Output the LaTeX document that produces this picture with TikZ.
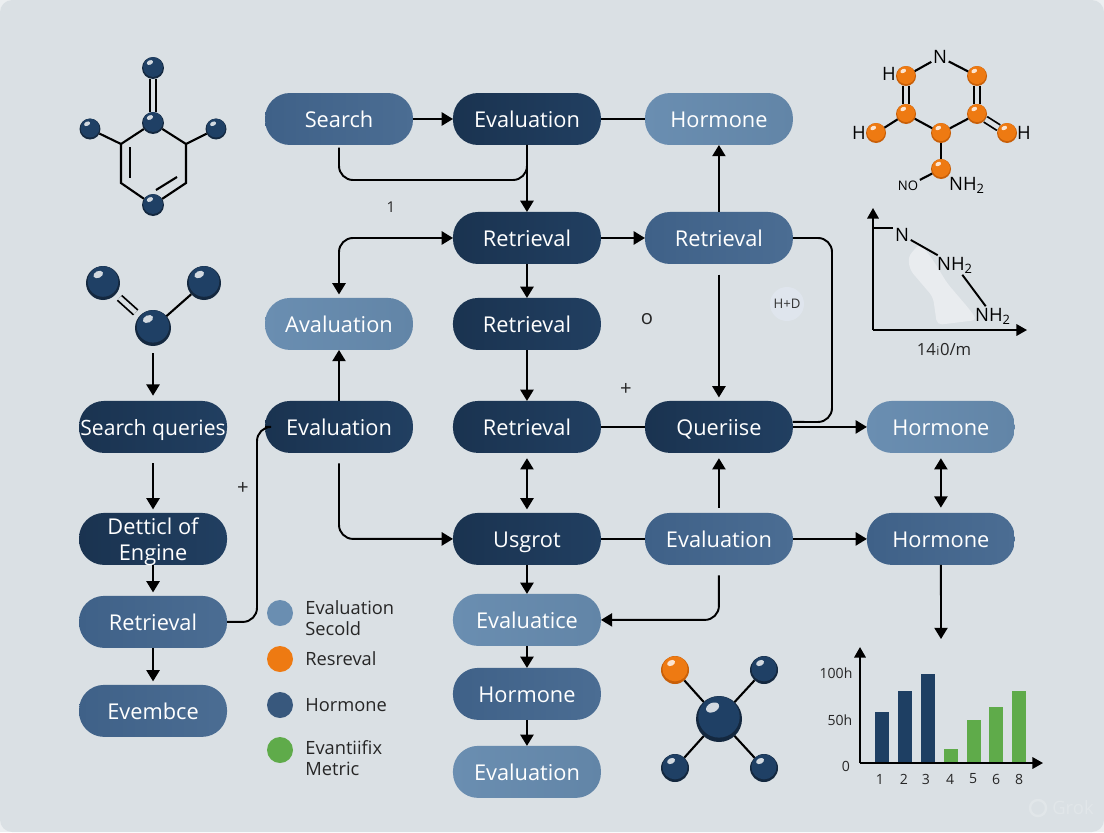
\documentclass[tikz,border=0pt]{standalone}
\usepackage{fontspec}
\setmainfont{Open Sans}
\usepackage{xcolor}
\usepackage{tikz}
\usetikzlibrary{shapes.geometric,arrows.meta,positioning,calc}
\definecolor{pagebg}{HTML}{DAE0E4}
\definecolor{hdbg}{HTML}{DFE5ED}
\definecolor{darkl}{HTML}{1A3350}
\definecolor{darkr}{HTML}{213F61}
\definecolor{midl}{HTML}{3F6188}
\definecolor{midr}{HTML}{4B6D93}
\definecolor{lightl}{HTML}{6A8EB1}
\definecolor{lightr}{HTML}{6285A7}
\definecolor{ballblue}{HTML}{1F4065}
\definecolor{balldark}{HTML}{14283F}
\definecolor{ballorange}{HTML}{EE7A12}
\definecolor{ballorangedk}{HTML}{C85F08}
\definecolor{barblue}{HTML}{1E3F63}
\definecolor{bargreen}{HTML}{5FAB4A}
\tikzset{
  box/.style={rectangle, rounded corners=0.5cm, minimum width=2.96cm, minimum height=1.04cm, inner sep=0pt, outer sep=0pt, align=center, text=white, text height=10pt, text depth=0pt, font=\fontsize{12.4}{14.7}\selectfont},
  darkbox/.style={box, left color=darkl, right color=darkr},
  midbox/.style={box, left color=midl, right color=midr},
  lightbox/.style={box, left color=lightl, right color=lightr},
  link/.style={draw=black, line width=1.1pt},
  arr/.style={link, -{Triangle[width=7.5pt,length=6.4pt]}},
  arrboth/.style={link, {Triangle[width=7.5pt,length=6.4pt]}-{Triangle[width=7.5pt,length=6.4pt]}},
  bendy/.style={rounded corners=8pt},
  bond/.style={draw=black, line width=1.2pt},
  bonddbl/.style={draw=black, line width=1pt, double=pagebg, double distance=2.6pt},
  axis/.style={draw=black, line width=1.1pt, -{Triangle[width=6.5pt,length=6pt]}},
  chem/.style={inner sep=0.8pt, text=black, font=\fontsize{10.5}{12}\selectfont},
  legdot/.style={circle, minimum size=0.52cm, inner sep=0pt, outer sep=0pt},
  legtext/.style={inner sep=0pt, align=left, text=black!85, font=\fontsize{10.4}{11.8}\selectfont},
  tickl/.style={inner sep=0pt, text=black!85, font=\fontsize{8}{9}\selectfont},
  mark text/.style={inner sep=0pt, text=black!85, font=\fontsize{8.5}{10}\selectfont},
  mark big/.style={mark text, font=\fontsize{11.5}{12}\selectfont}
}
% name, x, y, radius, colour, dark rim
\newcommand{\atom}[6]{
  \node[circle, minimum size=#4*0.04cm, inner sep=0pt, outer sep=0pt, fill=#6] (#1) at (#2,#3) {};
  \fill[#5] (#2,#3-0.09*#4) circle[radius=0.9*#4];
  \fill[white!80!#5, rotate around={25:(#2-0.28*#4,#3-0.5*#4)}] (#2-0.28*#4,#3-0.5*#4) ellipse[x radius=0.3*#4, y radius=0.2*#4];
}

\begin{document}
\begin{tikzpicture}[x=0.02cm,y=-0.02cm,node distance=1cm and 0.8cm]
\useasboundingbox (0,0) rectangle (1104,832);
\fill[white!50!pagebg] (0,0) rectangle (1104,832);
\fill[pagebg, rounded corners=7pt] (0,0) rectangle (1104,832);

% main flow
\node[midbox] (search) at (339,119) {Search};
\node[darkbox, right=0.8cm of search] (eval-a) {Evaluation};
\node[lightbox, right=0.88cm of eval-a] (horm-a) {Hormone};
\node[darkbox, below=1.34cm of eval-a] (ret-a) {Retrieval};
\node[midbox, right=0.88cm of ret-a] (ret-b) {Retrieval};
\node[darkbox, below=0.68cm of ret-a] (ret-c) {Retrieval};
\node[lightbox, left=0.8cm of ret-c] (aval) {Avaluation};
\node[darkbox, below=1.02cm of ret-c] (ret-d) {Retrieval};
\node[darkbox, left=0.8cm of ret-d] (eval-c) {Evaluation};
\node[darkbox, right=0.88cm of ret-d] (queri) {Queriise};
\node[lightbox, right=1.48cm of queri] (horm-b) {Hormone};
\node[darkbox, below=1.2cm of ret-d] (usgrot) {Usgrot};
\node[midbox, right=0.88cm of usgrot] (eval-d) {Evaluation};
\node[midbox, right=1.48cm of eval-d] (horm-c) {Hormone};
\node[lightbox, below=0.58cm of usgrot] (evalice) {Evaluatice};
\node[midbox, below=0.44cm of evalice] (horm-d) {Hormone};
\node[lightbox, below=0.52cm of horm-d] (eval-e) {Evaluation};

% left column
\node[darkbox, left=0.76cm of eval-c, font=\fontsize{12}{14.7}\selectfont] (squery) {Search queries};
\node[darkbox, below=1.2cm of squery, text height=26pt, text depth=2pt] (detail) {Detticl of\\Engine};
\node[midbox, below=0.62cm of detail] (ret-l) {Retrieval};
\node[midbox, below=0.74cm of ret-l] (evembce) {Evembce};

\draw[arr] (search) -- (eval-a);
\draw[link] (eval-a) -- (horm-a);
\coordinate (join-a) at (527,180);
\draw[link, bendy] ([yshift=-1.5pt]search.south) |- (join-a) -- (eval-a.south);
\draw[arr] (eval-a) -- (ret-a);
\draw[arr] (ret-a) -- (ret-b);
\draw[arr] (ret-b) -- (horm-a);
\draw[arrboth, bendy, shorten >=2pt] (ret-a.west) -| (aval.north);
\draw[arr, shorten <=6pt, shorten >=2pt] (ret-b) -- (queri);
\coordinate (turn-b) at (832,422);
\draw[link, bendy] (ret-b.east) -| (turn-b) -- ([yshift=0.1cm]queri.east);
\draw[arr] (queri) -- (horm-b);
\draw[arr] (eval-c) -- (aval);
\draw[arr] (ret-a) -- (ret-c);
\draw[arr] (ret-c) -- (ret-d);
\draw[link] (ret-d) -- (queri);
\draw[arrboth, shorten <=3pt, shorten >=2pt] (ret-d) -- (usgrot);
\draw[arr, bendy, shorten <=6pt] (eval-c.south) |- (usgrot.west);
\draw[link] (usgrot) -- (eval-d);
\draw[arr, shorten <=3pt, shorten >=3pt] (eval-d) -- (queri);
\draw[arr] (eval-d) -- (horm-c);
\draw[arrboth, shorten <=3pt, shorten >=3pt] (horm-b) -- (horm-c);
\coordinate (hist-in) at (941,639);
\draw[arr] (horm-c) -- (hist-in);
\draw[arr, bendy, shorten <=6pt] (eval-d.south) |- (evalice.east);
\draw[arr] (usgrot) -- (evalice);
\draw[arr] (evalice) -- (horm-d);
\draw[arr] (horm-d) -- (eval-e);
\draw[arr, shorten <=6pt, shorten >=2pt] (squery) -- (detail);
\draw[arr, shorten >=2pt] (detail) -- (ret-l);
\draw[arr, shorten >=2pt] (ret-l) -- (evembce);
\coordinate (turn-l) at (257,427);
\draw[link, bendy] (ret-l.east) -| (turn-l) -- (eval-c.west);

% loose marks
\node[mark text] (m-one) at (391,207) {1};
\node[mark big] (m-o) at (647,319) {o};
\node[mark big] (m-plus) at (626,389) {+};
\node[mark big] (m-plusb) at (243,488) {+};
\node[circle, fill=hdbg, minimum size=0.68cm, inner sep=0pt, text=black!80, font=\fontsize{7.5}{9}\selectfont] (m-hd) at (787,304) {H+D};

% molecule top left
\atom{a-top}{153}{68}{11}{ballblue}{balldark}
\atom{a-mid}{153}{123}{11}{ballblue}{balldark}
\atom{a-l}{90}{129}{10.5}{ballblue}{balldark}
\atom{a-r}{216}{129}{10.5}{ballblue}{balldark}
\atom{a-bot}{153}{205}{11}{ballblue}{balldark}
\coordinate (r1) at (121,144); \coordinate (r2) at (121,183);
\coordinate (r3) at (186,183); \coordinate (r4) at (186,144);
\coordinate (i1) at (130,147); \coordinate (i2) at (130,178);
\coordinate (i3) at (156,190); \coordinate (i4) at (177,177);
\draw[bonddbl] (a-top) -- (a-mid);
\draw[bond] (a-l) -- (r1); \draw[bond] (a-r) -- (r4);
\draw[bond] (a-mid) -- (r1) -- (r2) -- (a-bot);
\draw[bond] (a-bot) -- (r3) -- (r4) -- (a-mid);
\draw[bond] (i1) -- (i2); \draw[bond] (i3) -- (i4);

% molecule above left column
\atom{b-c}{153}{328}{18}{ballblue}{balldark}
\atom{b-l}{103}{283}{17}{ballblue}{balldark}
\atom{b-r}{204}{283}{17}{ballblue}{balldark}
\draw[bonddbl, shorten <=3pt, shorten >=3pt] (b-l) -- (b-c);
\draw[bond] (b-r) -- (b-c);
\draw[arr, shorten <=4pt, shorten >=3pt] (b-c) -- (squery);

% orange molecule
\atom{o-a}{906}{76}{10}{ballorange}{ballorangedk}
\atom{o-b}{977}{76}{10}{ballorange}{ballorangedk}
\atom{o-c}{906}{114}{10}{ballorange}{ballorangedk}
\atom{o-d}{977}{114}{10}{ballorange}{ballorangedk}
\atom{o-e}{941}{133}{10}{ballorange}{ballorangedk}
\atom{o-f}{876}{133}{10}{ballorange}{ballorangedk}
\atom{o-g}{1007}{133}{10}{ballorange}{ballorangedk}
\atom{o-h}{941}{169}{10}{ballorange}{ballorangedk}
\node[chem] (o-n) at (940,57) {N};
\node[chem] (o-h1) at (889,74) {H};
\node[chem] (o-h2) at (859,133) {H};
\node[chem] (o-h3) at (1024,133) {H};
\node[chem, font=\fontsize{7.5}{9}\selectfont] (o-no) at (908,186) {NO};
\node[chem] (o-nh) at (967,185) {NH\textsubscript{2}};
\draw[bond] (o-a) -- (o-n); \draw[bond] (o-n) -- (o-b);
\draw[bonddbl] (o-a) -- (o-c); \draw[bonddbl] (o-b) -- (o-d);
\draw[bond] (o-c) -- (o-e); \draw[bond] (o-e) -- (o-d);
\draw[bond] (o-c) -- (o-f); \draw[bonddbl] (o-d) -- (o-g);
\draw[bond] (o-e) -- (o-h); \draw[bond] (o-h) -- (o-no);

% small plot
\fill[white!40!pagebg, rounded corners=3pt] (908,257) -- (920,243) -- (933,260) -- (947,283) -- (970,310) -- (977,320) -- (937,325) -- (933,297) -- (910,270) -- cycle;
\coordinate (p-o) at (873,330); \coordinate (p-y) at (873,208); \coordinate (p-x) at (1027,330);
\coordinate (p-t) at (873,228); \coordinate (p-u) at (893,228);
\draw[axis] (p-o) -- (p-y); \draw[axis] (p-o) -- (p-x);
\draw[link] (p-t) -- (p-u);
\node[chem] (p-n) at (902,235) {N};
\node[chem] (p-nh) at (955,265) {NH\textsubscript{2}};
\node[chem] (p-nhb) at (993,316) {NH\textsubscript{2}};
\draw[link] (p-n) -- (p-nh); \draw[link] (p-nh) -- (p-nhb);
\node[tickl, font=\fontsize{9.5}{10}\selectfont] (p-lab) at (944,350) {14{\scriptsize\kern0.3pt i\kern0.3pt}0/m};

% legend
\node[legdot, fill=lightl] (leg-a) at (280,613) {};
\node[legdot, fill=ballorange] (leg-b) at (280,659) {};
\node[legdot, fill=midl!80!darkl] (leg-c) at (280,705) {};
\node[legdot, fill=bargreen] (leg-d) at (280,750) {};
\node[legtext, right=0.24cm of leg-a, yshift=-0.1cm] (leg-ta) {Evaluation\\Secold};
\node[legtext, right=0.24cm of leg-b] (leg-tb) {Resreval};
\node[legtext, right=0.24cm of leg-c] (leg-tc) {Hormone};
\node[legtext, right=0.24cm of leg-d, yshift=-0.16cm] (leg-td) {Evantiifix\\Metric};

% molecule bottom
\atom{c-c}{719}{719}{23}{ballblue}{balldark}
\atom{c-a}{675}{670}{14}{ballorange}{ballorangedk}
\atom{c-b}{764}{670}{14}{ballblue}{balldark}
\atom{c-d}{675}{768}{14}{ballblue}{balldark}
\atom{c-e}{764}{768}{14}{ballblue}{balldark}
\foreach \tip in {c-a,c-b,c-d,c-e}
  \draw[bond] (c-c) -- (\tip);

% bar chart
\foreach \bx/\btop/\bcol in {875/712/barblue,898/691/barblue,921/674/barblue,944/749/bargreen,967/720/bargreen,989/707/bargreen,1012/691/bargreen}
  \fill[\bcol] (\bx,763) rectangle (\bx+13.5,\btop);
\coordinate (h-o) at (860,763); \coordinate (h-y) at (860,647); \coordinate (h-x) at (1043,763);
\draw[axis] (h-o) -- (h-y); \draw[axis] (h-o) -- (h-x);
\node[tickl] (h-100) at (836,673) {100h};
\node[tickl] (h-50) at (840,720) {50h};
\node[tickl] (h-0) at (846,766) {0};
\foreach \lx/\ltxt in {880/1,904/2,926/3,950/4,973/5,996/6,1019/8}
  \node[tickl] (x-\ltxt) at (\lx,779) {\ltxt};

% watermark
\draw[white!20!pagebg, line width=1.4pt] (1038,808) circle[radius=8];
\node[inner sep=0pt, text=white!20!pagebg, font=\fontsize{10.5}{12}\selectfont] (grok) at (1073,808) {Grok};
\end{tikzpicture}
\end{document}
